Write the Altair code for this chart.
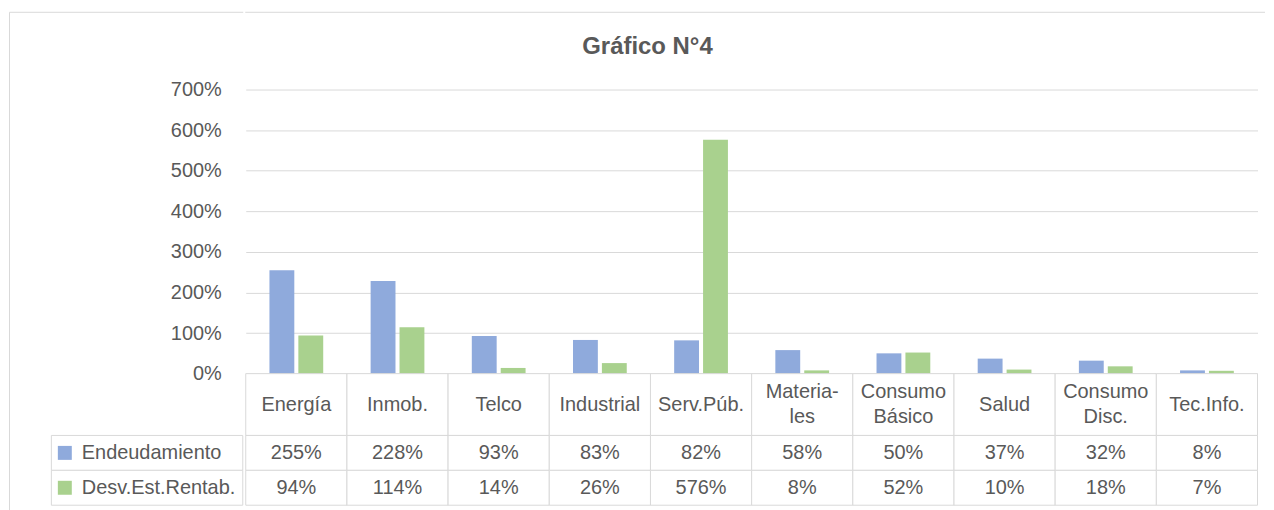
import altair as alt
import pandas as pd

# ---------------- data ----------------
TITLE = "Gráfico N°4"
CATEGORIES = ["Energía", "Inmob.", "Telco", "Industrial", "Serv.Púb.",
              "Materiales", "Consumo Básico", "Salud", "Consumo Disc.", "Tec.Info."]
CATEGORY_LABELS = ["Energía", "Inmob.", "Telco", "Industrial", "Serv.Púb.",
                   "Materia-\nles", "Consumo\nBásico", "Salud", "Consumo\nDisc.", "Tec.Info."]
SERIES = ["Endeudamiento", "Desv.Est.Rentab."]
ENDEUDAMIENTO = [2.55, 2.28, 0.93, 0.83, 0.82, 0.58, 0.50, 0.37, 0.32, 0.08]
DESV_EST_RENTAB = [0.94, 1.14, 0.14, 0.26, 5.76, 0.08, 0.52, 0.10, 0.18, 0.07]
Y_TICKS = [0, 1, 2, 3, 4, 5, 6, 7]
COLORS = ["#8FAADC", "#A9D18E"]

# ---------------- styles / layout ----------------
FONT = "Liberation Sans"
TXT = "#595959"
GRID = "#d9d9d9"
FS = 20

LEFT_W = 235
PLOT_W = 1016
TOTAL_H = 502
PLOT_TOP, PLOT_BOTTOM = 80, 365
CAT_BOTTOM = 427
TABLE_BOTTOM = 497
LEG_LEFT = 42

rows = []
for i, c in enumerate(CATEGORIES):
    rows.append({"cat": c, "series": SERIES[0], "value": ENDEUDAMIENTO[i]})
    rows.append({"cat": c, "series": SERIES[1], "value": DESV_EST_RENTAB[i]})
df = pd.DataFrame(rows)
cat_df = pd.DataFrame({"cat": CATEGORIES, "label": CATEGORY_LABELS, "row": ["cat"] * len(CATEGORIES)})
cat_df["lines"] = [len(s.split("\n")) for s in CATEGORY_LABELS]
leg_df = pd.DataFrame({"series": SERIES, "col": ["leg"] * len(SERIES)})
tick_df = pd.DataFrame({"v": Y_TICKS})
one = pd.DataFrame({"k": [0]})

color_scale = alt.Scale(domain=SERIES, range=COLORS)
y_val_scale = alt.Scale(domain=[0, 7], nice=False, range=[PLOT_BOTTOM, PLOT_TOP])
x_cat = alt.X("cat:N", sort=CATEGORIES,
              scale=alt.Scale(range=[0.5, PLOT_W - 0.5], paddingInner=0, paddingOuter=0), axis=None)
y_cat = alt.Y("row:N", scale=alt.Scale(domain=["cat"], range=[PLOT_BOTTOM, CAT_BOTTOM],
                                        paddingInner=0, paddingOuter=0), axis=None)
y_ser = alt.Y("series:N", sort=SERIES,
              scale=alt.Scale(domain=SERIES, range=[CAT_BOTTOM, TABLE_BOTTOM],
                              paddingInner=0, paddingOuter=0), axis=None)

# ---------------- left block: frame, y labels, legend column ----------------
frame_left = alt.Chart(one).mark_rule(color=GRID, strokeWidth=1).encode(
    x=alt.value(0.5), y=alt.value(2.5), y2=alt.value(TOTAL_H))
frame_top_a = alt.Chart(one).mark_rule(color=GRID, strokeWidth=1).encode(
    x=alt.value(0.5), x2=alt.value(LEFT_W), y=alt.value(2.5))
axis_carrier = alt.Chart(tick_df).mark_point(opacity=0, size=1).encode(
    x=alt.value(100),
    y=alt.Y("v:Q", scale=y_val_scale,
            axis=alt.Axis(values=Y_TICKS, format=".0%", grid=False, domain=False, ticks=False,
                          offset=-LEFT_W, labelPadding=22, labelFont=FONT, labelFontSize=FS,
                          labelColor=TXT, title=None)))
leg_base = alt.Chart(leg_df).encode(y=y_ser)
leg_cells = leg_base.mark_rect(fill="white", stroke=GRID, strokeWidth=1).encode(
    x=alt.X("col:N", scale=alt.Scale(domain=["leg"], range=[LEG_LEFT + 0.5, LEFT_W - 0.5],
                                     paddingInner=0, paddingOuter=0), axis=None))
leg_sym = leg_base.mark_square(size=196, opacity=1).encode(
    x=alt.value(LEG_LEFT + 14),
    color=alt.Color("series:N", sort=SERIES, scale=color_scale, legend=None))
leg_text = leg_base.mark_text(font=FONT, fontSize=FS, color=TXT, align="left", baseline="middle").encode(
    x=alt.value(LEG_LEFT + 31), text="series:N")

left_block = alt.layer(frame_left, frame_top_a, axis_carrier, leg_cells, leg_sym, leg_text).resolve_scale(
    x="independent", y="independent").properties(width=LEFT_W, height=TOTAL_H)

# ---------------- right block: title, bars, table ----------------
frame_top_b = alt.Chart(one).mark_rule(color=GRID, strokeWidth=1).encode(
    x=alt.value(0), x2=alt.value(1023), y=alt.value(2.5))
title = alt.Chart(pd.DataFrame({"t": [TITLE]})).mark_text(
    font=FONT, fontSize=24, fontWeight="bold", color=TXT, align="center", baseline="alphabetic"
).encode(text="t:N", x=alt.value(638.5 - LEFT_W), y=alt.value(44))

bars = alt.Chart(df).mark_bar().encode(
    x=x_cat,
    xOffset=alt.XOffset("series:N", sort=SERIES,
                        scale=alt.Scale(paddingInner=0.14, paddingOuter=0.82)),
    y=alt.Y("value:Q", scale=y_val_scale,
            axis=alt.Axis(values=Y_TICKS, grid=True, gridColor=GRID, gridWidth=1,
                          labels=False, domain=False, ticks=False, title=None)),
    color=alt.Color("series:N", sort=SERIES, scale=color_scale, legend=None),
)

cat_base = alt.Chart(cat_df).encode(x=x_cat, y=y_cat)
cat_cells = cat_base.mark_rect(fill="white", stroke=GRID, strokeWidth=1)
cat_text1 = cat_base.mark_text(font=FONT, fontSize=FS, color=TXT, baseline="middle").encode(
    text="label:N").transform_filter("datum.lines == 1")
cat_text2 = cat_base.mark_text(font=FONT, fontSize=FS, color=TXT, lineBreak="\n", lineHeight=26,
                               baseline="middle", dy=-13).encode(
    text="label:N").transform_filter("datum.lines == 2")

val_base = alt.Chart(df).encode(x=x_cat, y=y_ser)
val_cells = val_base.mark_rect(fill="white", stroke=GRID, strokeWidth=1)
val_text = val_base.mark_text(font=FONT, fontSize=FS, color=TXT, baseline="middle").encode(
    text=alt.Text("value:Q", format=".0%"))

right_block = alt.layer(frame_top_b, title, bars, cat_cells, cat_text1, cat_text2,
                        val_cells, val_text).resolve_scale(y="independent").properties(
    width=PLOT_W, height=TOTAL_H)

chart = alt.hconcat(left_block, right_block, spacing=0).properties(
    padding=0
).configure(background="white", font=FONT).configure_view(stroke="transparent")

chart.save("out.html", embed_options={"renderer": "svg", "actions": False})
